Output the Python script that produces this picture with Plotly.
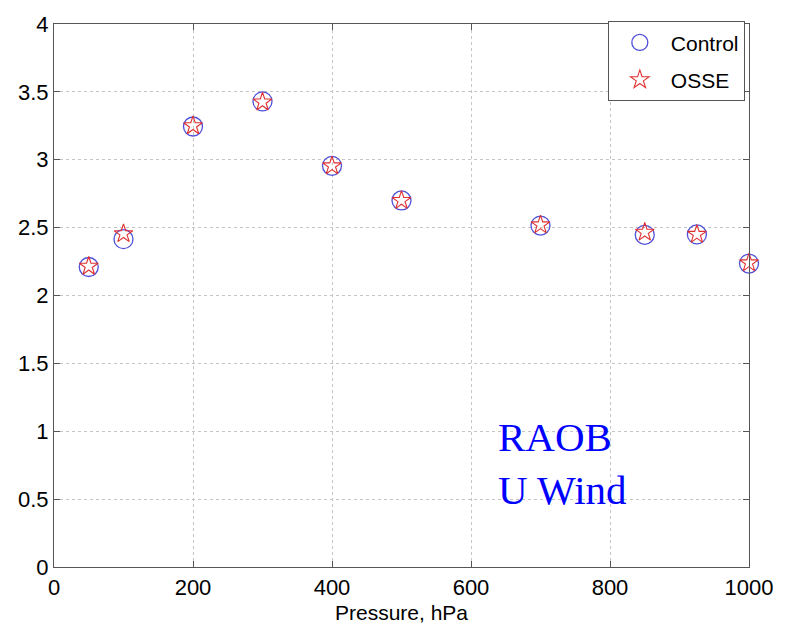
import plotly.graph_objects as go

pressure = [50, 100, 200, 300, 400, 500, 700, 850, 925, 1000]
control = [2.21, 2.415, 3.245, 3.43, 2.955, 2.70, 2.515, 2.447, 2.45, 2.235]
osse = [2.215, 2.455, 3.25, 3.425, 2.955, 2.70, 2.52, 2.466, 2.45, 2.24]

x_ticks = [0, 200, 400, 600, 800, 1000]
y_ticks = [0, 0.5, 1, 1.5, 2, 2.5, 3, 3.5, 4]
y_tick_text = ["0", "0.5", "1", "1.5", "2", "2.5", "3", "3.5", "4"]

SANS = "Liberation Sans, Arial, sans-serif"

fig = go.Figure()
fig.add_trace(go.Scatter(
    x=pressure, y=control, mode="markers", name="Control", cliponaxis=False,
    legendgroup="control",
    marker=dict(symbol="circle-open", size=19, color="#5050d8",
                line=dict(width=1.3, color="#5050d8")),
))
fig.add_trace(go.Scatter(
    x=pressure, y=osse, mode="markers", name="OSSE", cliponaxis=False,
    legendgroup="osse",
    marker=dict(symbol="star-open", size=14, color="#e03030",
                line=dict(width=1.1, color="#e03030")),
))

axis_common = dict(
    showline=True, linecolor="#555555", linewidth=1.2, mirror="ticks",
    ticks="inside", ticklen=6, tickcolor="#555555",
    showgrid=True, gridcolor="#c4c4c4", griddash="dot", gridwidth=1,
    zeroline=False,
    tickfont=dict(family=SANS, size=22, color="black"),
)

fig.update_xaxes(range=[0, 1000], tickvals=x_ticks,
                 title=dict(text="Pressure, hPa", standoff=6,
                            font=dict(family=SANS, size=21, color="black")),
                 **axis_common)
fig.update_yaxes(range=[0, 4], tickvals=y_ticks, ticktext=y_tick_text, **axis_common)

fig.add_annotation(
    x=636, y=0.76, xref="x", yref="y", xanchor="left", yanchor="middle",
    text="RAOB<br>U Wind", showarrow=False, align="left",
    font=dict(family="Liberation Serif, Times New Roman, serif", size=41, color="#0000ff"),
)

fig.update_layout(
    width=785, height=634,
    margin=dict(l=54, r=31, t=14, b=67),
    paper_bgcolor="white", plot_bgcolor="white",
    showlegend=True,
    legend=dict(
        x=0.994, y=1.005, xanchor="right", yanchor="top",
        bordercolor="#555555", borderwidth=1, bgcolor="white",
        font=dict(family=SANS, size=21, color="black"),
        itemsizing="trace", itemwidth=52, tracegroupgap=7,
    ),
)

fig.write_html("out.html")
